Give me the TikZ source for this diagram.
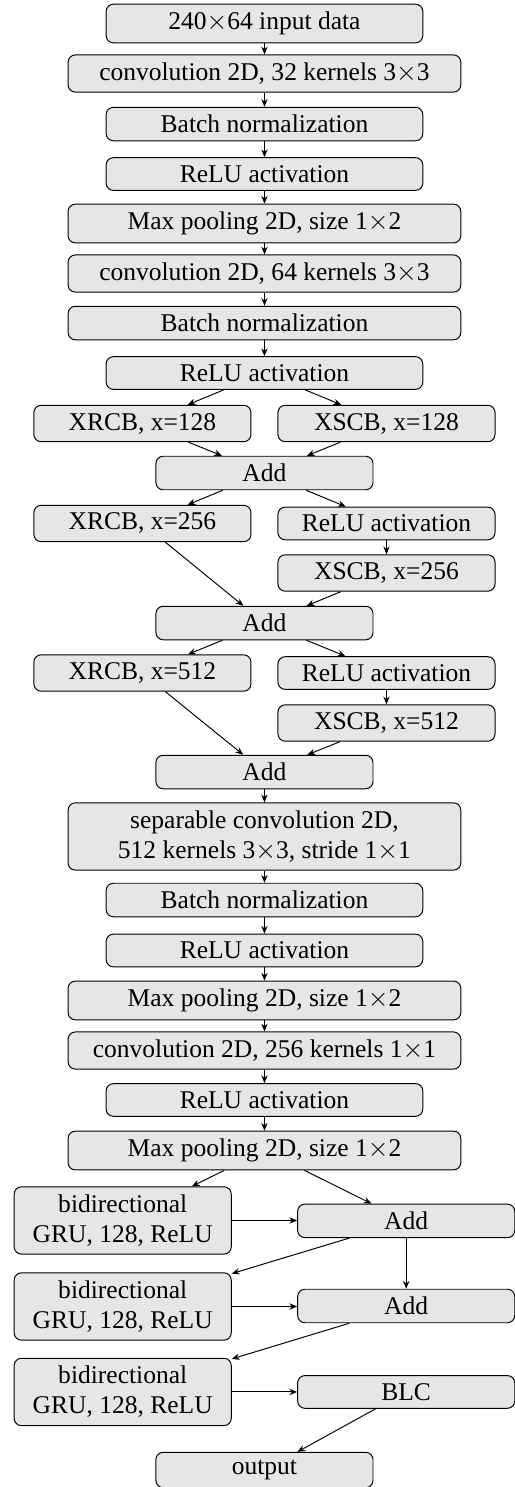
\documentclass[tikz,border=0pt]{standalone}
\usepackage{fontspec}
\setmainfont{Liberation Serif}
\usepackage{tikz}
\usetikzlibrary{arrows.meta, positioning}
\definecolor{boxFill}{RGB}{230, 230, 230}

\begin{document}
\begin{tikzpicture}[
    layer/.style={draw, fill=boxFill, rounded corners=3pt, minimum width=4.58cm, align=center,
      inner ysep=3.2pt, font=\fontsize{10.5}{12.4}\selectfont},
    widelayer/.style={layer, minimum width=5.68cm},
    halflayer/.style={layer, minimum width=3.14cm},
    flow/.style={-{Stealth[length=3.2pt, width=2.6pt]}}
  ]
  \useasboundingbox (-3.825,0.340) rectangle (3.623,-21.167);

  % Feature extraction
  \node[layer]     (input) at (0,0)      {240$\times$64 input data};
  \node[widelayer] (conva) at (0,-0.723) {convolution 2D, 32 kernels 3$\times$3};
  \node[layer]     (bna)   at (0,-1.454) {Batch normalization};
  \node[layer]     (relua) at (0,-2.177) {ReLU activation};
  \node[widelayer] (poola) at (0,-2.893) {Max pooling 2D, size 1$\times$2};
  \node[widelayer] (convb) at (0,-3.616) {convolution 2D, 64 kernels 3$\times$3};
  \node[widelayer] (bnb)   at (0,-4.332) {Batch normalization};
  \node[layer]     (relub) at (0,-5.055) {ReLU activation};

  % Residual blocks
  \node[halflayer] (xrcba) at (-1.765,-5.785) {XRCB, x=128};
  \node[halflayer] (xscba) at (1.765,-5.785)  {XSCB, x=128};
  \node[halflayer] (adda)  at (0,-6.501)      {Add};
  \node[halflayer] (xrcbb) at (-1.765,-7.231) {XRCB, x=256};
  \node[halflayer] (reluc) at (1.765,-7.231)  {ReLU activation};
  \node[halflayer] (xscbb) at (1.765,-7.947)  {XSCB, x=256};
  \node[halflayer] (addb)  at (0,-8.671)      {Add};
  \node[halflayer] (xrcbc) at (-1.765,-9.394) {XRCB, x=512};
  \node[halflayer] (relud) at (1.765,-9.394)  {ReLU activation};
  \node[halflayer] (xscbc) at (1.765,-10.117) {XSCB, x=512};
  \node[halflayer] (addc)  at (0,-10.826)     {Add};

  % Tail of the convolutional part
  \node[widelayer] (sepconv) at (0,-11.758) {separable convolution 2D,\\512 kernels 3$\times$3, stride 1$\times$1};
  \node[layer]     (bnc)   at (0,-12.677) {Batch normalization};
  \node[layer]     (relue) at (0,-13.407) {ReLU activation};
  \node[widelayer] (poolb) at (0,-14.130) {Max pooling 2D, size 1$\times$2};
  \node[widelayer] (convc) at (0,-14.854) {convolution 2D, 256 kernels 1$\times$1};
  \node[layer]     (reluf) at (0,-15.569) {ReLU activation};
  \node[widelayer] (poolc) at (0,-16.300) {Max pooling 2D, size 1$\times$2};

  % Recurrent part
  \node[halflayer] (grua) at (-2.05,-17.312) {bidirectional\\GRU, 128, ReLU};
  \node[halflayer] (addd) at (2.05,-17.318)  {Add};
  \node[halflayer] (grub) at (-2.05,-18.556) {bidirectional\\GRU, 128, ReLU};
  \node[halflayer] (adde) at (2.05,-18.549)  {Add};
  \node[halflayer] (gruc) at (-2.05,-19.792) {bidirectional\\GRU, 128, ReLU};
  \node[halflayer] (blc)  at (2.05,-19.792)  {BLC};
  \node[halflayer] (output) at (0,-20.921)   {output};

  % Arrows
  \foreach \a/\b in {input/conva, conva/bna, bna/relua, relua/poola, poola/convb,
                     convb/bnb, bnb/relub, relub/xrcba, relub/xscba, xrcba/adda,
                     xscba/adda, adda/xrcbb, adda/reluc, reluc/xscbb, xrcbb/addb,
                     xscbb/addb, addb/xrcbc, addb/relud, relud/xscbc, xrcbc/addc,
                     xscbc/addc, addc/sepconv, sepconv/bnc, bnc/relue, relue/poolb,
                     poolb/convc, convc/reluf, reluf/poolc, poolc/grua, poolc/addd,
                     addd/grub, addd/adde, adde/gruc, blc/output}
    \draw[flow] (\a) -- (\b);
  \draw[flow] (grua.east) -- (grua.east -| addd.west);
  \draw[flow] (grub.east) -- (grub.east -| adde.west);
  \draw[flow] (gruc.east) -- (gruc.east -| blc.west);
\end{tikzpicture}
\end{document}
